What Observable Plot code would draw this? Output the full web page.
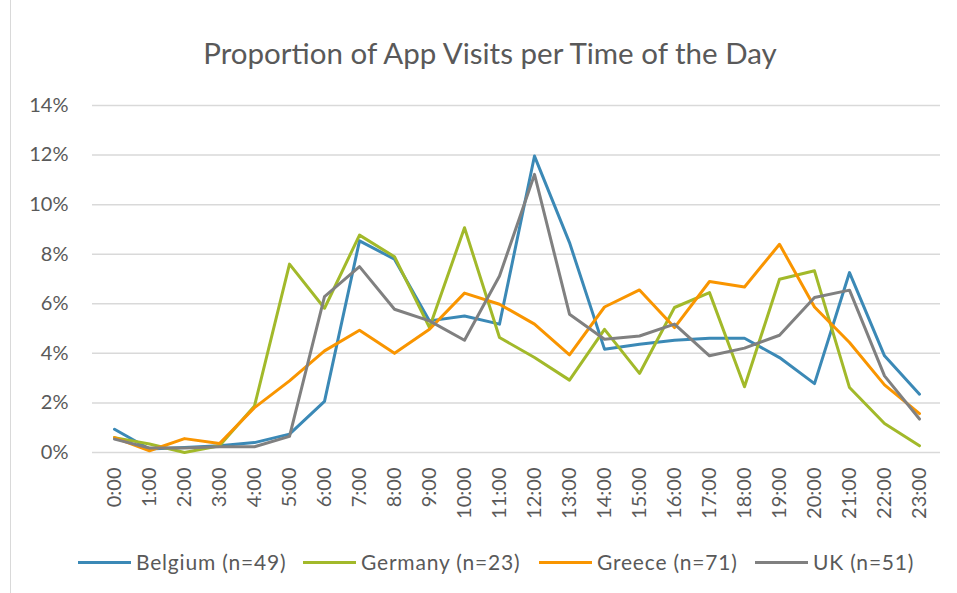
<!DOCTYPE html>
<html>
<head>
<meta charset="utf-8">
<script src="https://cdn.jsdelivr.net/npm/d3@7"></script>
<script src="https://cdn.jsdelivr.net/npm/@observablehq/plot@0.6"></script>
<style>
  body { margin: 0; background: #fff; }
  #wrap { position: relative; width: 957px; height: 593px; overflow: hidden; font-family: Lato, sans-serif; color: #595959; }
  #border { position: absolute; left: 10px; top: 0; width: 1px; height: 593px; background: #d9d9d9; }
  #title { position: absolute; left: 0; top: 35px; width: 980px; text-align: center; font-size: 29.5px; line-height: 36px; }
  #chart { position: absolute; left: 0; top: 80px; }
  #legend { position: absolute; left: 0; top: 548px; width: 957px; height: 28px; font-size: 21px; line-height: 28px; letter-spacing: 0.8px; }
  .item { position: absolute; top: 0; display: flex; align-items: center; white-space: nowrap; }
  .sw { width: 53px; height: 3px; margin-right: 5px; }
</style>
</head>
<body>
<div id="wrap">
  <div id="border"></div>
  <div id="title">Proportion of App Visits per Time of the Day</div>
  <div id="chart"></div>
  <div id="legend"></div>
</div>
<script>
const hours = ["0:00","1:00","2:00","3:00","4:00","5:00","6:00","7:00","8:00","9:00","10:00","11:00","12:00","13:00","14:00","15:00","16:00","17:00","18:00","19:00","20:00","21:00","22:00","23:00"];
const seriesNames = ["Belgium (n=49)", "Germany (n=23)", "Greece (n=71)", "UK (n=51)"];
const seriesColors = ["#3b89b6", "#a2b92a", "#f99500", "#808080"];
// values in percent
const belgium = [0.94,0.14,0.20,0.27,0.40,0.74,2.06,8.54,7.80,5.31,5.51,5.18,11.96,8.47,4.17,4.37,4.53,4.61,4.61,3.83,2.78,7.26,3.90,2.35];
const germany = [0.60,0.34,0.00,0.27,1.88,7.60,5.82,8.77,7.90,5.04,9.07,4.64,3.83,2.92,4.97,3.19,5.85,6.45,2.65,6.99,7.33,2.62,1.17,0.27];
const greece  = [0.60,0.07,0.56,0.36,1.81,2.89,4.10,4.93,4.00,4.97,6.43,5.98,5.18,3.94,5.87,6.56,5.04,6.90,6.68,8.40,5.87,4.44,2.73,1.57];
const uk      = [0.54,0.18,0.18,0.23,0.23,0.65,6.29,7.50,5.78,5.31,4.53,7.12,11.22,5.58,4.57,4.70,5.18,3.90,4.21,4.73,6.25,6.55,3.09,1.35];
const yTicks = [0,0.02,0.04,0.06,0.08,0.10,0.12,0.14];

const allSeries = [belgium, germany, greece, uk];
const data = [];
allSeries.forEach((vals, si) => {
  vals.forEach((v, i) => data.push({series: seriesNames[si], hour: hours[i], value: v / 100}));
});

const chart = Plot.plot({
  width: 957,
  height: 460,
  marginTop: 25,
  marginBottom: 88,
  marginLeft: 92,
  marginRight: 17,
  style: { fontFamily: "Lato, sans-serif", fontSize: "20px", color: "#595959", background: "transparent" },
  x: { type: "point", domain: hours, padding: 0.5 },
  y: { domain: [0, 0.14] },
  color: { domain: seriesNames, range: seriesColors },
  marks: [
    Plot.gridY(yTicks, { stroke: "#d9d9d9", strokeOpacity: 1, strokeWidth: 1.5 }),
    Plot.axisY(yTicks, { tickSize: 0, tickPadding: 24, tickFormat: d3.format(".0%"), label: null, fontSize: 20, fill: "#595959" }),
    Plot.axisX({ tickSize: 0, tickPadding: 15, tickRotate: -90, label: null, fontSize: 20, fill: "#595959" }),
    Plot.line(data, { x: "hour", y: "value", z: "series", stroke: "series", strokeWidth: 3, strokeLinejoin: "round", strokeLinecap: "round" })
  ]
});
document.getElementById("chart").appendChild(chart);

const legendLeft = [78, 303, 539, 755];
const legend = document.getElementById("legend");
seriesNames.forEach((name, i) => {
  const item = document.createElement("div");
  item.className = "item";
  item.style.left = legendLeft[i] + "px";
  const sw = document.createElement("div");
  sw.className = "sw";
  sw.style.background = seriesColors[i];
  const t = document.createElement("span");
  t.textContent = name;
  item.appendChild(sw);
  item.appendChild(t);
  legend.appendChild(item);
});
</script>
</body>
</html>
